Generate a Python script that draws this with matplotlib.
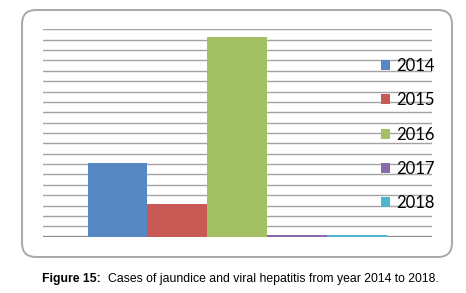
import matplotlib.pyplot as plt
from matplotlib.patches import FancyBboxPatch, Patch
from matplotlib.transforms import IdentityTransform

years = ['2014', '2015', '2016', '2017', '2018']
cases = [7.1, 3.2, 19.3, 0.2, 0.15]
colors = ['#5689c4', '#c75a55', '#a3c163', '#8a6aab', '#4fb4cc']
grid_max = 20

fig = plt.figure(figsize=(4.66, 2.93), dpi=100)

# rounded frame around the chart (display pixels)
frame = FancyBboxPatch((22, 293 - 257), 430, 247,
                       boxstyle='round,pad=0,rounding_size=14',
                       transform=IdentityTransform(), fill=False,
                       edgecolor='#a8a8a8', linewidth=1.4)
fig.add_artist(frame)

ax = fig.add_axes([43.3 / 466, 1 - 236.7 / 293, 389 / 466, 207.4 / 293])
ax.set_xlim(-0.742, 5.763)
ax.set_ylim(0, grid_max)

for v in range(1, grid_max + 1):
    ax.axhline(v, color='#a3a3a3', linewidth=1.0, zorder=1)

for i, (yr, val) in enumerate(zip(years, cases)):
    ax.bar(i, val, width=1.0, align='edge', color=colors[i], zorder=2)
ax.axhline(0, color='#8c8c8c', linewidth=1.6, zorder=1.5)

for s in ax.spines.values():
    s.set_visible(False)
ax.set_xticks([])
ax.set_yticks([])
ax.patch.set_alpha(0)

handles = [Patch(facecolor=c, edgecolor='none') for c in colors]
ax.legend(handles, years, loc='upper left', frameon=False,
          bbox_to_anchor=(381 / 466, 1 - 58 / 293), bbox_transform=fig.transFigure,
          prop={'family': 'Lato', 'size': 12}, borderpad=0, borderaxespad=0,
          handlelength=0.55, handleheight=0.55, handletextpad=0.35,
          labelspacing=1.1)

t1 = fig.text(42.5 / 466, 1 - 279 / 293, 'Figure 15:', fontsize=8.8,
              fontweight='bold', family='Liberation Sans', va='center')
ax.annotate('Cases of jaundice and viral hepatitis from year 2014 to 2018.',
            xy=(1, 0.5), xycoords=t1, xytext=(5, 0), textcoords='offset points',
            va='center', fontsize=8.8, family='Liberation Sans',
            annotation_clip=False)

fig.savefig('out.png', dpi=100)
